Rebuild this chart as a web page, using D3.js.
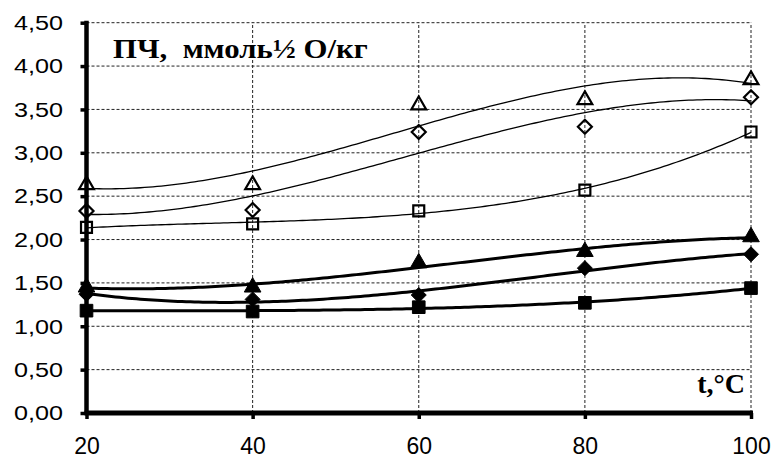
<!DOCTYPE html>
<html><head><meta charset="utf-8">
<script src="https://cdn.jsdelivr.net/npm/d3@7"></script>
<style>html,body{margin:0;padding:0;background:#fff;}svg{display:block;}</style>
</head><body>
<svg id="c" width="775" height="459"></svg>
<script>
const temps = [20, 40, 60, 80, 100];
const yTicks = [0, 0.5, 1, 1.5, 2, 2.5, 3, 3.5, 4, 4.5];
const openTriangle = [2.63, 2.63, 3.55, 3.61, 3.84];
const openDiamond  = [2.33, 2.34, 3.24, 3.30, 3.64];
const openSquare   = [2.14, 2.18, 2.33, 2.57, 3.24];
const fullTriangle = [1.45, 1.45, 1.73, 1.86, 2.03];
const fullDiamond  = [1.37, 1.31, 1.36, 1.67, 1.83];
const fullSquare   = [1.18, 1.17, 1.22, 1.27, 1.44];
const titleText = "ПЧ,  ммоль½ О/кг";
const xTitle = "t,°C";

const series = [
  {v: openTriangle, shape: d3.symbolTriangle, open: true},
  {v: openDiamond, shape: "diamond", open: true},
  {v: openSquare, shape: d3.symbolSquare, open: true},
  {v: fullTriangle, shape: d3.symbolTriangle, open: false},
  {v: fullDiamond, shape: "diamond", open: false},
  {v: fullSquare, shape: d3.symbolSquare, open: false}
];

const svg = d3.select("#c");
const x = d3.scaleLinear().domain([20, 100]).range([86.5, 751]);
const y = d3.scaleLinear().domain([0, 4.5]).range([413, 22.7]);

// gridlines
const grid = svg.append("g").attr("stroke", "#222").attr("stroke-width", 1).attr("stroke-dasharray", "3,2");
grid.selectAll("line.h").data(yTicks.filter(d => d > 0)).join("line")
  .attr("x1", x(20)).attr("x2", x(100)).attr("y1", d => y(d)).attr("y2", d => y(d));
grid.selectAll("line.v").data(temps.filter(d => d > 20)).join("line")
  .attr("y1", y(0)).attr("y2", y(4.5)).attr("x1", d => x(d)).attr("x2", d => x(d));

// polynomial fit (cubic, least squares) like spreadsheet trendline
function polyfit(xs, ys, order) {
  const n = order + 1;
  const A = Array.from({length: n}, () => new Array(n + 1).fill(0));
  xs.forEach((xv, k) => {
    const t = (xv - 60) / 40;
    for (let i = 0; i < n; i++) {
      for (let j = 0; j < n; j++) A[i][j] += Math.pow(t, i + j);
      A[i][n] += Math.pow(t, i) * ys[k];
    }
  });
  for (let i = 0; i < n; i++) {
    let p = i;
    for (let r = i + 1; r < n; r++) if (Math.abs(A[r][i]) > Math.abs(A[p][i])) p = r;
    [A[i], A[p]] = [A[p], A[i]];
    for (let r = 0; r < n; r++) {
      if (r === i) continue;
      const f = A[r][i] / A[i][i];
      for (let c = i; c <= n; c++) A[r][c] -= f * A[i][c];
    }
  }
  const coef = A.map((row, i) => row[n] / row[i]);
  return xv => { const t = (xv - 60) / 40; return coef.reduce((s, c, i) => s + c * Math.pow(t, i), 0); };
}

const line = d3.line().x(d => x(d[0])).y(d => y(d[1])).curve(d3.curveLinear);
const xsFine = d3.range(20, 100.01, 0.5);
series.forEach(s => {
  const f = polyfit(temps, s.v, 3);
  svg.append("path").datum(xsFine.map(t => [t, f(t)]))
    .attr("d", line).attr("fill", "none").attr("stroke", "#000")
    .attr("stroke-width", s.open ? 1.3 : 3);
});

// markers
const diamondPath = r => `M0,${-r}L${r},0L0,${r}L${-r},0Z`;
series.forEach(s => {
  const g = svg.append("g");
  g.selectAll("path").data(temps.map((t, i) => [t, s.v[i]])).join("path")
    .attr("transform", d => `translate(${x(d[0])},${y(d[1])})`)
    .attr("d", () => {
      if (s.shape === "diamond") return diamondPath(s.open ? 7 : 7.5);
      if (s.shape === d3.symbolTriangle) return d3.symbol(s.shape, s.open ? 95 : 120)();
      return d3.symbol(s.shape, s.open ? 120 : 160)();
    })
    .attr("fill", s.open ? "none" : "#000")
    .attr("stroke", "#000").attr("stroke-width", s.open ? 2.2 : 1);
});

// axes
const sx = 1.2;
const yAxis = svg.append("g").attr("transform", `translate(${x(20)},0)`)
  .call(d3.axisLeft(y).tickValues(yTicks).tickSize(6)
    .tickFormat(d => d3.format(".2f")(d).replace(".", ",")));
yAxis.select(".domain").remove();
yAxis.selectAll(".tick line").attr("stroke", "#000").attr("stroke-width", 3.5);
yAxis.selectAll("text").attr("x", -23.5 / sx).attr("transform", `scale(${sx},1)`)
  .attr("font-family", "Liberation Sans, Arial, sans-serif").attr("font-size", 21).attr("fill", "#000");

const xAxis = svg.append("g").attr("transform", `translate(0,${y(0)})`)
  .call(d3.axisBottom(x).tickValues(temps).tickSize(6).tickPadding(19).tickFormat(d3.format("d")));
xAxis.select(".domain").remove();
xAxis.selectAll(".tick line").attr("stroke", "#000").attr("stroke-width", 3.5);
xAxis.selectAll("text").attr("font-family", "Liberation Sans, Arial, sans-serif").attr("font-size", 23).attr("fill", "#000");

svg.append("line").attr("x1", x(20)).attr("x2", x(20)).attr("y1", y(4.5) - 2).attr("y2", y(0) + 2)
  .attr("stroke", "#000").attr("stroke-width", 4.5);
svg.append("line").attr("x1", x(20) - 2).attr("x2", x(100) + 2).attr("y1", y(0)).attr("y2", y(0))
  .attr("stroke", "#000").attr("stroke-width", 5);

// titles
const tsx = 1.1;
svg.append("text").attr("x", 113 / tsx).attr("y", 58).attr("transform", `scale(${tsx},1)`)
  .style("white-space", "pre").attr("xml:space", "preserve").text(titleText)
  .attr("font-family", "Liberation Serif, Times New Roman, serif").attr("font-weight", "bold")
  .attr("font-size", 28).attr("fill", "#000");
svg.append("text").attr("x", 745).attr("y", 393).attr("text-anchor", "end").text(xTitle)
  .attr("font-family", "Liberation Serif, Times New Roman, serif").attr("font-weight", "bold")
  .attr("font-size", 28).attr("fill", "#000");
</script>
</body></html>
